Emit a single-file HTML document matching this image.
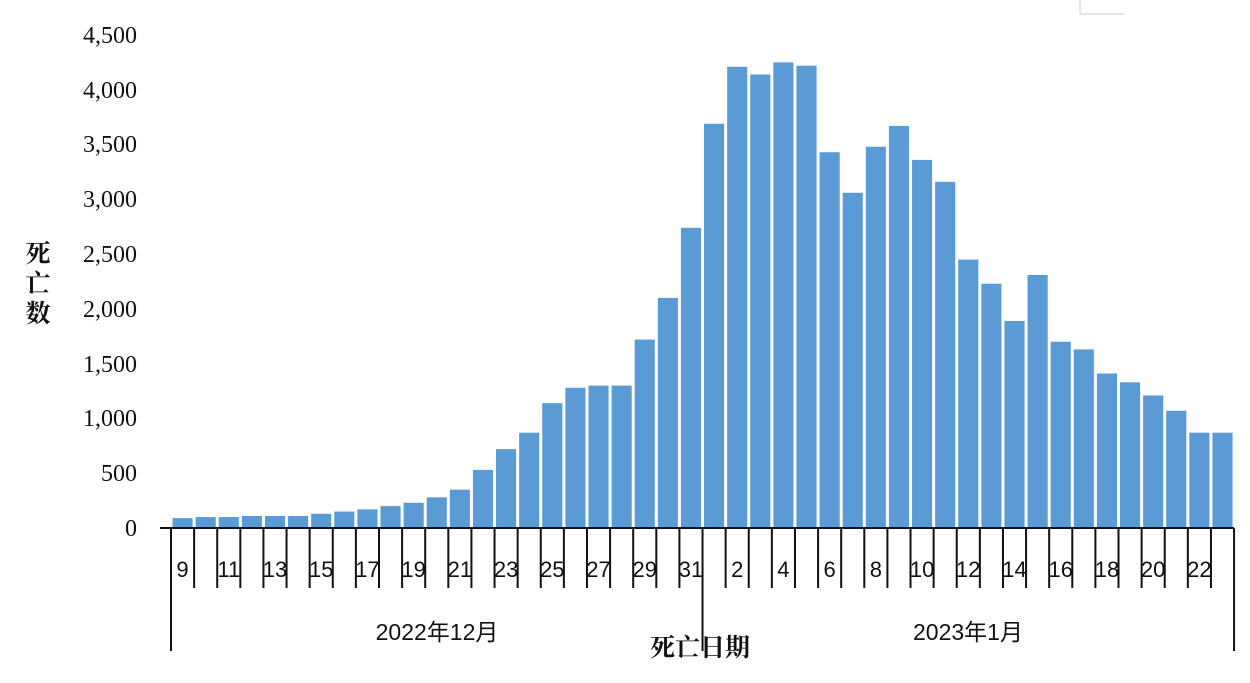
<!DOCTYPE html>
<html><head><meta charset="utf-8"><style>
body{margin:0;background:#fff;}
.s{font-family:"Liberation Sans","Noto Sans CJK SC",sans-serif;}
.r{font-family:"Liberation Serif","Noto Serif CJK SC",serif;}
.c{font-family:"Noto Serif CJK SC","Liberation Serif",serif;}
</style></head><body>
<svg width="1250" height="678" xmlns="http://www.w3.org/2000/svg">
<rect width="1250" height="678" fill="#fff"/>
<path d="M1080 0 V14 H1125" stroke="#ccc" fill="none"/>
<g id="bars" fill="#5b9bd5"></g>
<g class="r" font-size="24" text-anchor="end" fill="#111">
<text x="137" y="536">0</text><text x="137" y="481">500</text><text x="137" y="426">1,000</text>
<text x="137" y="372">1,500</text><text x="137" y="317">2,000</text><text x="137" y="262">2,500</text>
<text x="137" y="207">3,000</text><text x="137" y="152">3,500</text><text x="137" y="98">4,000</text>
<text x="137" y="43">4,500</text>
</g>
<line x1="160" y1="528" x2="1234" y2="528" stroke="#111" stroke-width="2"/>
<g id="ticks" stroke="#111" stroke-width="2"></g>
<g id="labels" class="s" font-size="22" text-anchor="middle" fill="#111"></g>
<text class="s" x="437" y="640" font-size="23" text-anchor="middle" fill="#111">2022年12月</text>
<text class="s" x="968" y="640" font-size="23" text-anchor="middle" fill="#111">2023年1月</text>
<text class="c" x="700" y="656" font-size="25" font-weight="bold" text-anchor="middle" fill="#111">死亡日期</text>
<g class="c" font-size="25" font-weight="bold" text-anchor="middle" fill="#111">
<text x="38" y="262">死</text><text x="38" y="292">亡</text><text x="38" y="322">数</text>
</g>
</svg>
<script>
var v=[90,100,100,110,110,110,130,150,170,200,230,280,350,530,720,870,1140,1280,1300,1300,1720,2100,2740,3690,4210,4140,4250,4220,3430,3060,3480,3670,3360,3160,2450,2230,1890,2310,1700,1630,1410,1330,1210,1070,870,870];
var ns="http://www.w3.org/2000/svg",x0=171,w=23.11,k=493/4500;
var b=document.getElementById('bars'),t=document.getElementById('ticks'),l=document.getElementById('labels');
function el(n,a,p){var e=document.createElementNS(ns,n);for(var i in a)e.setAttribute(i,a[i]);p.appendChild(e);return e;}
v.forEach(function(d,i){var h=d*k;el('rect',{x:x0+i*w+1.5,y:528-h,width:w-3,height:h},b);});
for(var i=0;i<=46;i++){var x=x0+i*w,y2=(i==0||i==46||i==23)?651:588;el('line',{x1:x,y1:528,x2:x,y2:y2},t);}
for(var i=0;i<46;i++){var day=i<23?9+i:i-22;if(day%2==(i<23?1:0)){var e=el('text',{x:x0+(i+0.5)*w,y:577},l);e.textContent=day;}}
</script>
</body></html>
